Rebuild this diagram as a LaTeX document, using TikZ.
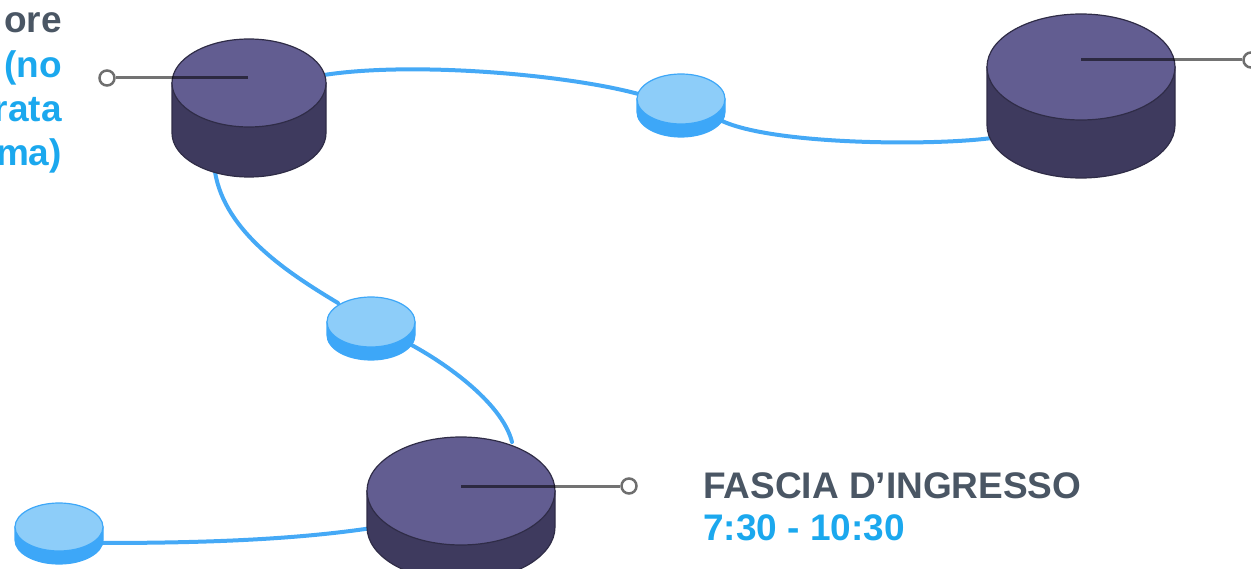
\documentclass[tikz,border=0pt]{standalone}
\usepackage{fontspec}
\setmainfont{Liberation Sans}
\usepackage{tikz}
\definecolor{diskTop}{HTML}{625D91}
\definecolor{diskSide}{HTML}{3E3A5E}
\definecolor{diskEdge}{HTML}{2F2C47}
\definecolor{dotTop}{HTML}{8DCDF9}
\definecolor{dotSide}{HTML}{3DA7F8}
\definecolor{linkBlue}{HTML}{45A9F6}
\definecolor{textGray}{HTML}{4A5664}
\definecolor{textBlue}{HTML}{1BA8EE}
\definecolor{tagGray}{HTML}{6E6E6E}
% #1 cx, #2 cy, #3 rx, #4 ry, #5 depth, #6 top colour, #7 side colour, #8 edge colour
\newcommand{\drawdisk}[8]{%
\draw[draw=#8,line width=1.2,fill=#7] (#1-#3,#2) -- ++(0,#5)
  arc[start angle=180,end angle=0,x radius=#3,y radius=#4] -- ++(0,-#5) -- cycle;
\draw[draw=#8,line width=1.2,fill=#6] (#1,#2) ellipse[x radius=#3,y radius=#4];
}
\tikzset{
  link/.style={draw=linkBlue,line width=4,line cap=round},
  leader/.style={draw=black,opacity=0.55,line width=3},
  tagdot/.style={circle,draw=tagGray,fill=white,line width=2.5,minimum size=15,inner sep=0},
  grayText/.style={text=textGray,font=\fontsize{37}{44}\selectfont\bfseries,inner sep=0},
  blueText/.style={text=textBlue,font=\fontsize{37}{44}\selectfont\bfseries,inner sep=0},
}
\begin{document}
\begin{tikzpicture}[x=1pt,y=-1pt]
\useasboundingbox (0,0) rectangle (1251,569);

% end points of the connectors
\coordinate (orarioE) at (324,75);
\coordinate (orarioS) at (215,172);
\coordinate (puntoAW) at (642,95);
\coordinate (puntoAE) at (720,120);
\coordinate (uscitaW) at (992,138);
\coordinate (puntoBN) at (338,303);
\coordinate (puntoBS) at (402,340);
\coordinate (ingressoN) at (512,442);
\coordinate (ingressoW) at (372,528);
\coordinate (puntoCE) at (100,543);

\draw[link] (orarioE) .. controls +(90,-14) and +(-70,-20) .. (puntoAW);
\draw[link] (puntoAE) .. controls +(50,25) and +(-60,8) .. (uscitaW);
\draw[link] (orarioS) .. controls +(10,60) and +(-50,-30) .. (puntoBN);
\draw[link] (puntoBS) .. controls +(40,20) and +(-10,-40) .. (ingressoN);
\draw[link] (ingressoW) .. controls +(-80,12) and +(100,0) .. (puntoCE);

% disks
\drawdisk{249}{83}{77}{44}{50}{diskTop}{diskSide}{diskEdge}
\drawdisk{1081}{67}{94}{53}{58}{diskTop}{diskSide}{diskEdge}
\drawdisk{461}{491}{94}{54}{36}{diskTop}{diskSide}{diskEdge}
\drawdisk{681}{99}{44}{25}{13}{dotTop}{dotSide}{dotSide}
\drawdisk{371}{322}{44}{25}{13}{dotTop}{dotSide}{dotSide}
\drawdisk{59}{527}{44}{24}{13}{dotTop}{dotSide}{dotSide}

% leaders
\coordinate (orario) at (248,78);
\coordinate (uscita) at (1081,60);
\coordinate (ingresso) at (461,486);
\node[tagdot] (orarioTag) at (107,78) {};
\node[tagdot] (uscitaTag) at (1251,60) {};
\node[tagdot] (ingressoTag) at (629,486) {};
\draw[leader] (orario) -- (orarioTag);
\draw[leader] (uscita) -- (uscitaTag);
\draw[leader] (ingresso) -- (ingressoTag);

% texts
\node[grayText,anchor=base east] (orarioL1) at (62,33) {ore};
\node[blueText,anchor=base east] (orarioL2) at (62,78) {(no};
\node[blueText,anchor=base east] (orarioL3) at (62,122) {rata};
\node[blueText,anchor=base east] (orarioL4) at (62,166) {ma)};
\node[grayText,anchor=base west] (fasciaTitolo) at (703,498) {FASCIA D’INGRESSO};
\node[blueText,anchor=base west] (fasciaOre) at (703,540) {7:30 - 10:30};
\end{tikzpicture}
\end{document}
